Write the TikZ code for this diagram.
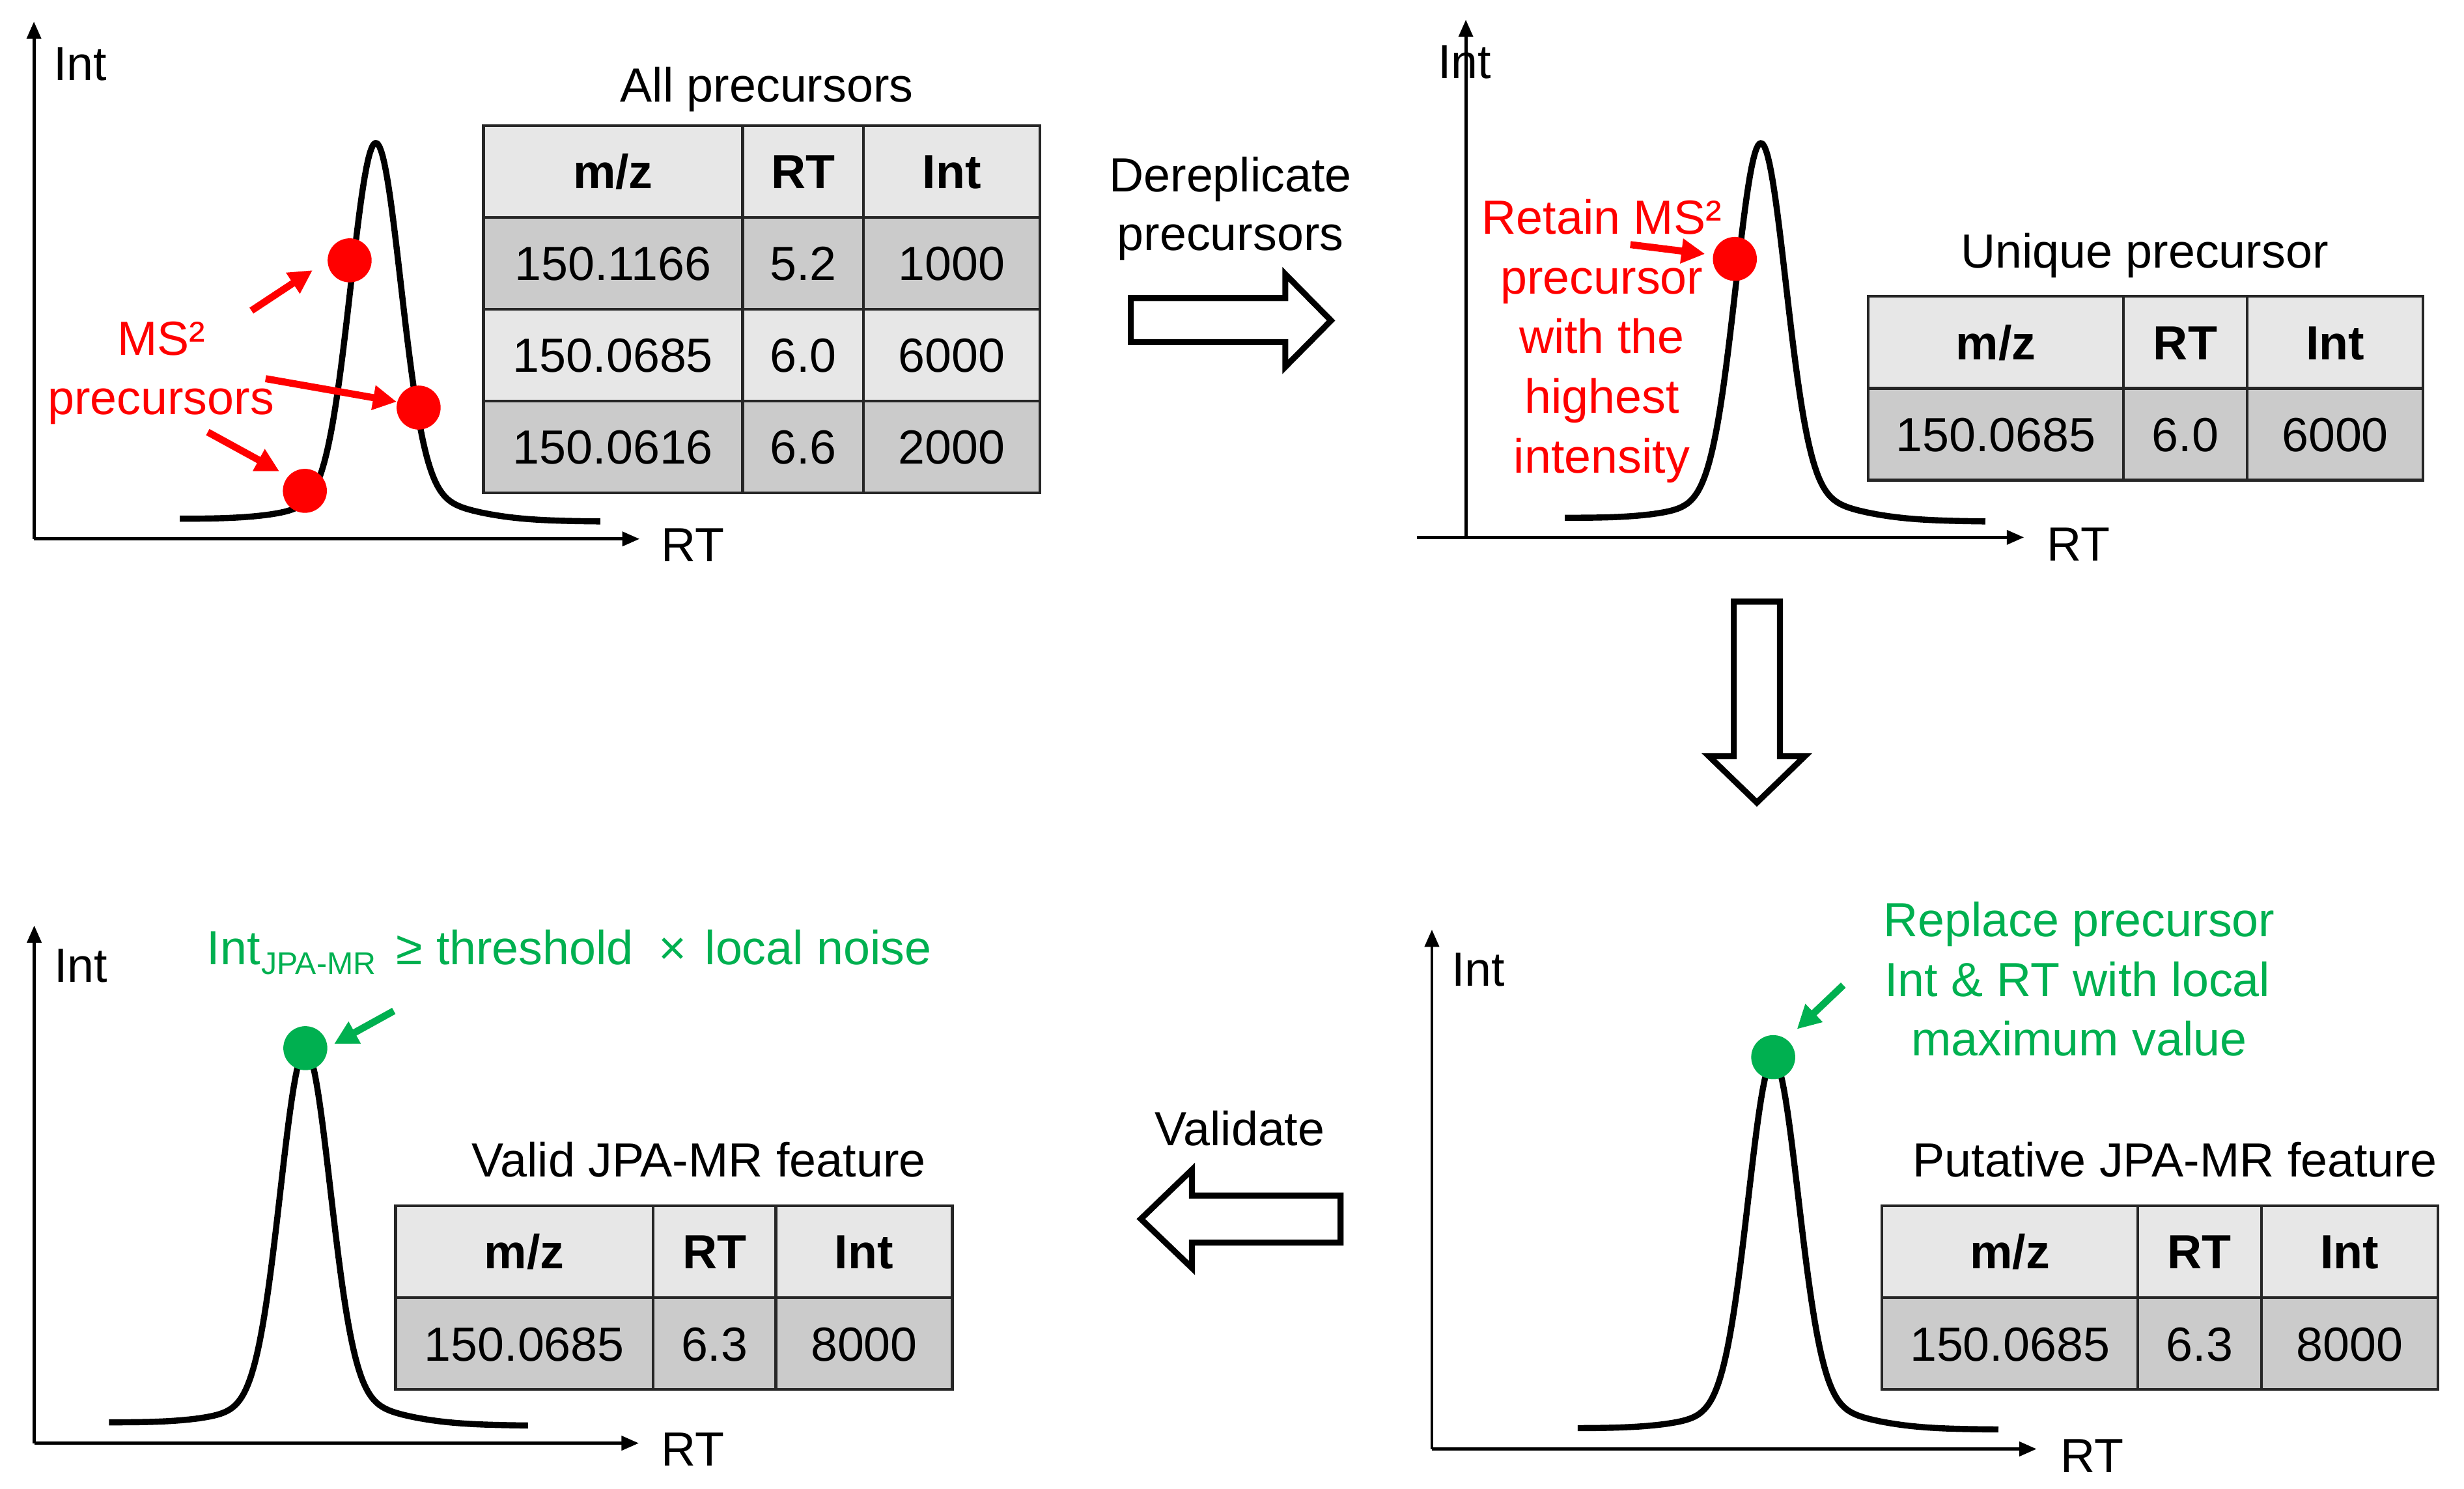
\documentclass[tikz,border=0pt]{standalone}
\usepackage{fontspec}
\setmainfont{Liberation Sans}
\usetikzlibrary{arrows.meta}
\definecolor{myred}{HTML}{FF0000}
\definecolor{mygreen}{HTML}{00B050}
\definecolor{hdrgray}{HTML}{E7E7E7}
\definecolor{rowdark}{HTML}{CBCBCB}
\definecolor{rowlight}{HTML}{E7E7E7}
\newcommand\cellnode[6]{\node[cell, fill=#5, minimum width=#4pt] (#1) at (#2,#3) {#6};}
% xl, xr, x0, top, baseL, baseR, sigma
\newcommand\peakcurve[7]{%
  \draw[curve] plot[domain=#1:#2, samples=260]
   (\x, { (#5) + ((#6)-(#5))*(\x-(#1))/((#2)-(#1))
     - ((#5) + ((#6)-(#5))*((#3)-(#1))/((#2)-(#1)) - (#4))
       *(0.93*exp(max(-0.5*((\x-(#3))/(#7))^2,-15))
        +0.07*exp(max(-0.5*((\x-(#3)-6)/40)^2,-15))) });}
\begin{document}
\begin{tikzpicture}[x=1pt,y=-1pt,
  every node/.style={font=\fontsize{30.5pt}{38pt}\selectfont, inner sep=0pt},
  axis/.style={line width=2pt, -{Triangle[length=11pt,width=9pt]}},
  curve/.style={line width=3.9pt, line join=round},
  cell/.style={draw=black!85, line width=1.8pt, minimum height=58.5pt,
    text height=21.8pt, text depth=0pt, anchor=center, inner sep=0pt},
  lbl/.style={anchor=base},
  pointer/.style={line width=4.5pt, -{Triangle[length=15pt,width=15pt]}},
  blockarrow/.style={draw=black, line width=3.8pt, line join=miter, fill=white},
  dot/.style={circle, minimum size=28pt, inner sep=0pt}]
\useasboundingbox (0,0) rectangle (1568,947.66);

% ---------------- Panel 1 ----------------
\coordinate (o1) at (21.6,343);
\coordinate (y1) at (21.6,13.7);
\coordinate (x1) at (407,343);
\draw[axis] (o1) -- (y1);
\draw[axis] (o1) -- (x1);
\node[lbl] (int1) at (51,51) {Int};
\node[lbl] (rt1) at (441,357.5) {RT};
\peakcurve{114.4}{382}{239.1}{90.8}{330.2}{331.9}{15.8}
\node[dot, fill=myred] (d1) at (222.5,165.7) {};
\node[dot, fill=myred] (d2) at (266.4,259.4) {};
\node[dot, fill=myred] (d3) at (194,312.4) {};
\node[lbl, text=myred] (ms1) at (102.7,226) {MS²};
\node[lbl, text=myred] (ms2) at (102.4,263.6) {precursors};
\coordinate (a1s) at (160,197.7);
\coordinate (a2s) at (169,241);
\coordinate (a3s) at (132.2,275);
\draw[pointer, myred] (a1s) -- (198.9,172);
\draw[pointer, myred] (a2s) -- (252.4,255.7);
\draw[pointer, myred] (a3s) -- (177.8,300);

\node[lbl] (t1title) at (488,65) {All precursors};
\cellnode{t1h1}{390.1}{109.1}{165}{hdrgray}{\textbf{m/z}}
\cellnode{t1h2}{511.05}{109.1}{76.9}{hdrgray}{\textbf{RT}}
\cellnode{t1h3}{605.65}{109.1}{112.3}{hdrgray}{\textbf{Int}}
\cellnode{t1a1}{390.1}{167.6}{165}{rowdark}{150.1166}
\cellnode{t1a2}{511.05}{167.6}{76.9}{rowdark}{5.2}
\cellnode{t1a3}{605.65}{167.6}{112.3}{rowdark}{1000}
\cellnode{t1b1}{390.1}{226.0}{165}{rowlight}{150.0685}
\cellnode{t1b2}{511.05}{226.0}{76.9}{rowlight}{6.0}
\cellnode{t1b3}{605.65}{226.0}{112.3}{rowlight}{6000}
\cellnode{t1c1}{390.1}{284.5}{165}{rowdark}{150.0616}
\cellnode{t1c2}{511.05}{284.5}{76.9}{rowdark}{6.6}
\cellnode{t1c3}{605.65}{284.5}{112.3}{rowdark}{2000}

% Dereplicate arrow
\node[lbl] (der1) at (783,122.2) {Dereplicate};
\node[lbl] (der2) at (783,159.5) {precursors};
\draw[blockarrow] (719.6,189.7) -- (817.9,189.7) -- (817.9,174.5) -- (847,204)
  -- (817.9,233.5) -- (817.9,217.7) -- (719.6,217.7) -- cycle;

% ---------------- Panel 2 ----------------
\coordinate (o2) at (932.8,342);
\coordinate (y2) at (932.8,12.5);
\coordinate (x2s) at (901.7,342);
\coordinate (x2) at (1288,342);
\draw[axis] (o2) -- (y2);
\draw[axis] (x2s) -- (x2);
\node[lbl] (int2) at (932,50) {Int};
\node[lbl] (rt2) at (1322.5,357) {RT};
\peakcurve{995.8}{1263.4}{1120.5}{90.9}{329.6}{331.9}{15.8}
\node[dot, fill=myred] (d4) at (1104,164.8) {};
\node[lbl, text=myred] (r1) at (1019.3,149) {Retain MS²};
\node[lbl, text=myred] (r2) at (1019.3,187) {precursor};
\node[lbl, text=myred] (r3) at (1019.3,225) {with the};
\node[lbl, text=myred] (r4) at (1019.3,263) {highest};
\node[lbl, text=myred] (r5) at (1019.3,301) {intensity};
\coordinate (a4s) at (1037.5,155.7);
\draw[pointer, myred] (a4s) -- (1085,161.6);

\node[lbl] (t2title) at (1364.7,170.5) {Unique precursor};
\cellnode{t2h1}{1270.1}{217.9}{162.4}{hdrgray}{\textbf{m/z}}
\cellnode{t2h2}{1390.65}{217.9}{78.7}{hdrgray}{\textbf{RT}}
\cellnode{t2h3}{1485.95}{217.9}{111.9}{hdrgray}{\textbf{Int}}
\cellnode{t2a1}{1270.1}{276.4}{162.4}{rowdark}{150.0685}
\cellnode{t2a2}{1390.65}{276.4}{78.7}{rowdark}{6.0}
\cellnode{t2a3}{1485.95}{276.4}{111.9}{rowdark}{6000}

% Down arrow
\draw[blockarrow] (1103.3,382.9) -- (1132.7,382.9) -- (1132.7,481.3) -- (1148.5,481.3)
  -- (1118,510.8) -- (1087.5,481.3) -- (1103.3,481.3) -- cycle;

% ---------------- Panel 3 ----------------
\coordinate (o3) at (911.2,922.2);
\coordinate (y3) at (911.2,591.6);
\coordinate (x3) at (1296,922.2);
\draw[axis] (o3) -- (y3);
\draw[axis] (o3) -- (x3);
\node[lbl] (int3) at (940.6,627.4) {Int};
\node[lbl] (rt3) at (1331.5,937) {RT};
\peakcurve{1004}{1271.7}{1128.4}{674}{909}{909.8}{15.8}
\node[dot, fill=mygreen] (g3) at (1128.4,672.8) {};
\node[lbl, text=mygreen] (p1) at (1323,596) {Replace precursor};
\node[lbl, text=mygreen] (p2) at (1322,634) {Int \& RT with local};
\node[lbl, text=mygreen] (p3) at (1323,672) {maximum value};
\coordinate (a5s) at (1173,627);
\draw[pointer, mygreen] (a5s) -- (1143.5,655);

\node[lbl] (t3title) at (1384,749) {Putative JPA-MR feature};
\cellnode{t3h1}{1279}{796.65}{162.8}{hdrgray}{\textbf{m/z}}
\cellnode{t3h2}{1399.7}{796.65}{78.6}{hdrgray}{\textbf{RT}}
\cellnode{t3h3}{1495.25}{796.65}{112.5}{hdrgray}{\textbf{Int}}
\cellnode{t3a1}{1279}{855.15}{162.8}{rowdark}{150.0685}
\cellnode{t3a2}{1399.7}{855.15}{78.6}{rowdark}{6.3}
\cellnode{t3a3}{1495.25}{855.15}{112.5}{rowdark}{8000}

% Validate arrow
\node[lbl] (val) at (789,729) {Validate};
\draw[blockarrow] (853.1,760.9) -- (758.5,760.9) -- (758.5,744.5) -- (726,775.8)
  -- (758.5,807) -- (758.5,790.8) -- (853.1,790.8) -- cycle;

% ---------------- Panel 4 ----------------
\coordinate (o4) at (21.8,918.5);
\coordinate (y4) at (21.8,589);
\coordinate (x4) at (406.5,918.5);
\draw[axis] (o4) -- (y4);
\draw[axis] (o4) -- (x4);
\node[lbl] (int4) at (51.5,625) {Int};
\node[lbl] (rt4) at (441,933) {RT};
\peakcurve{69.4}{336}{194.3}{668}{905.3}{907.3}{15.8}
\node[dot, fill=mygreen] (g4) at (194.3,667.1) {};
\coordinate (a6s) at (250.6,643.4);
\draw[pointer, mygreen] (a6s) -- (212.6,664.4);
\node[lbl, text=mygreen] (v1) at (148.6,614) {Int};
\node[lbl, text=mygreen, font=\fontsize{20pt}{24pt}\selectfont] (v2) at (202.7,620.2) {JPA-MR};
\node[lbl, text=mygreen] (v3) at (260.7,614) {≥};
\node[lbl, text=mygreen] (v4) at (340.4,614) {threshold};
\node[lbl, text=mygreen] (v5) at (428,614) {×};
\node[lbl, text=mygreen] (v6) at (520.7,614) {local noise};

\node[lbl] (t4title) at (444.7,749) {Valid JPA-MR feature};
\cellnode{t4h1}{333.7}{796.65}{163.8}{hdrgray}{\textbf{m/z}}
\cellnode{t4h2}{454.65}{796.65}{78.1}{hdrgray}{\textbf{RT}}
\cellnode{t4h3}{549.85}{796.65}{112.3}{hdrgray}{\textbf{Int}}
\cellnode{t4a1}{333.7}{855.15}{163.8}{rowdark}{150.0685}
\cellnode{t4a2}{454.65}{855.15}{78.1}{rowdark}{6.3}
\cellnode{t4a3}{549.85}{855.15}{112.3}{rowdark}{8000}
\end{tikzpicture}
\end{document}
